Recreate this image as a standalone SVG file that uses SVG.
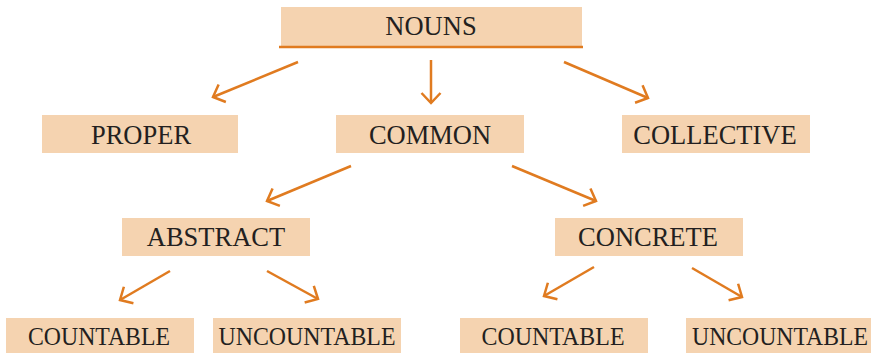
<svg xmlns="http://www.w3.org/2000/svg" width="873" height="353" viewBox="0 0 873 353">
<defs>
<style>
.box{fill:#F5D3B0}
.t{font-family:"Liberation Serif","Times New Roman",serif;font-size:26.5px;fill:#231F20;text-anchor:middle}
.s{font-size:24.5px}
.c{stroke:#E07B20;stroke-width:2.5;fill:none;marker-end:url(#ah)}
</style>
<marker id="ah" markerUnits="userSpaceOnUse" markerWidth="24" markerHeight="24" viewBox="-12 -12 24 24" refX="0" refY="0" orient="auto">
<path d="M-10,-9.5 L0,0 L-10,9.5" fill="none" stroke="#E07B20" stroke-width="2.5"/>
</marker>
</defs>
<rect width="873" height="353" fill="#fff"/>
<g id="nouns">
<rect class="box" x="281" y="7" width="301" height="40"/>
<line x1="279" y1="47" x2="583" y2="47" stroke="#E07B20" stroke-width="2.4"/>
<text class="t" x="431" y="35">NOUNS</text>
</g>
<g id="proper">
<rect class="box" x="42" y="115" width="196" height="38"/>
<text class="t" x="141" y="144">PROPER</text>
</g>
<g id="common">
<rect class="box" x="336" y="115" width="188" height="38"/>
<text class="t" x="430" y="144">COMMON</text>
</g>
<g id="collective">
<rect class="box" x="622" y="115" width="188" height="38"/>
<text class="t" x="715" y="144">COLLECTIVE</text>
</g>
<g id="abstract">
<rect class="box" x="122" y="218" width="188" height="38"/>
<text class="t" x="216" y="246">ABSTRACT</text>
</g>
<g id="concrete">
<rect class="box" x="555" y="218" width="188" height="38"/>
<text class="t" x="648" y="246">CONCRETE</text>
</g>
<g id="countable1">
<rect class="box" x="6" y="318" width="188" height="35"/>
<text class="t s" x="99" y="345" textLength="142" lengthAdjust="spacingAndGlyphs">COUNTABLE</text>
</g>
<g id="uncountable1">
<rect class="box" x="213" y="318" width="188" height="35"/>
<text class="t s" x="307" y="345" textLength="177" lengthAdjust="spacingAndGlyphs">UNCOUNTABLE</text>
</g>
<g id="countable2">
<rect class="box" x="460" y="318" width="188" height="35"/>
<text class="t s" x="553" y="345" textLength="143" lengthAdjust="spacingAndGlyphs">COUNTABLE</text>
</g>
<g id="uncountable2">
<rect class="box" x="686" y="318" width="185" height="35"/>
<text class="t s" x="780" y="345" textLength="176" lengthAdjust="spacingAndGlyphs">UNCOUNTABLE</text>
</g>
<g id="connectors">
<line class="c" x1="298" y1="62" x2="213" y2="97"/>
<line class="c" x1="431" y1="60" x2="431" y2="103"/>
<line class="c" x1="564" y1="62" x2="648" y2="98"/>
<line class="c" x1="351" y1="166" x2="267" y2="201"/>
<line class="c" x1="512" y1="166" x2="596" y2="201"/>
<line class="c" x1="170" y1="271" x2="120" y2="300"/>
<line class="c" x1="267" y1="271" x2="318" y2="299"/>
<line class="c" x1="594" y1="267" x2="544" y2="296"/>
<line class="c" x1="692" y1="268" x2="742" y2="297"/>
</g>
</svg>
